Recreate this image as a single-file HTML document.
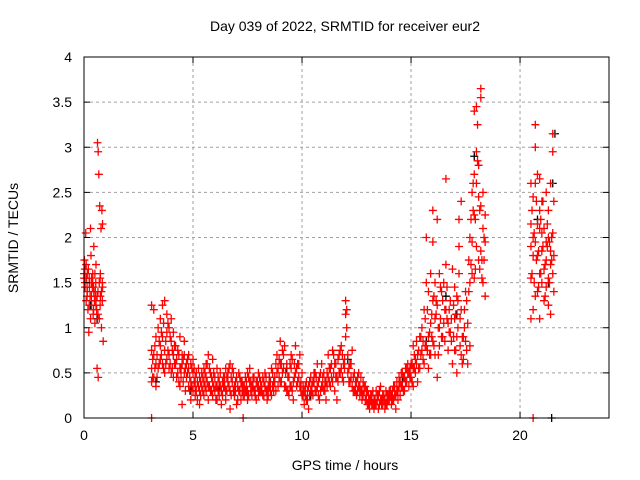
<!DOCTYPE html>
<html><head><meta charset="utf-8"><style>
body{margin:0;background:#fff}
svg{display:block;font-family:"Liberation Sans",sans-serif}
</style></head><body>
<svg id="chart" width="640" height="480" viewBox="0 0 640 480" xmlns="http://www.w3.org/2000/svg">
<rect width="640" height="480" fill="#fff"/>
<text x="345" y="31" font-size="14" text-anchor="middle">Day 039 of 2022, SRMTID for receiver eur2</text>
<text x="345" y="470" font-size="14" text-anchor="middle">GPS time / hours</text>
<text x="18" y="238" font-size="14" text-anchor="middle" transform="rotate(-90 18 238)">SRMTID / TECUs</text>
<g id="grid"></g>
<g id="black-series"></g>
<g id="red-series"></g>
<g id="axes"></g>
</svg>
<script>
const xTicks=[0,5,10,15,20];
const yTicks=[0,0.5,1,1.5,2,2.5,3,3.5,4];
const yTickLabels=["0","0.5","1","1.5","2","2.5","3","3.5","4"];
const hours=[0,0.02,0.05,0.08,0.1,0.12,0.15,0.18,0.2,0.22,0.25,0.28,0.3,0.32,0.35,0.38,0.4,0.42,0.45,0.48,0.5,0.52,0.55,0.58,0.6,0.62,0.65,0.68,0.7,0.72,0.75,0.78,0.8,0.82,0.85,0.88,
3.1,3.2,3.3,3.4,3.5,3.6,3.7,3.8,3.9,4.0,4.1,4.2,4.3,4.4,4.5,4.6,4.7,4.8,4.9,5.0,5.1,5.2,5.3,5.4,5.5,5.6,5.7,5.8,5.9,6.0,6.1,6.2,6.3,6.4,6.5,6.6,6.7,6.8,6.9,7.0,7.1,7.2,7.3,7.4,7.5,7.6,7.7,7.8,7.9,8.0,8.1,8.2,8.3,8.4,8.5,8.6,8.7,8.8,8.9,9.0,9.1,9.2,9.3,9.4,9.5,9.6,9.7,9.8,9.9,10.0,10.1,10.2,10.3,10.4,10.5,10.6,10.7,10.8,10.9,11.0,11.1,11.2,11.3,11.4,11.5,11.6,11.7,11.8,11.9,12.0,12.05,12.1,12.2,12.3,12.4,12.5,12.6,12.7,12.8,12.9,13.0,13.1,13.2,13.3,13.4,13.5,13.6,13.7,13.8,13.9,14.0,14.1,14.2,14.3,14.4,14.5,14.6,14.7,14.8,14.9,15.0,15.1,15.2,15.3,15.4,15.5,15.6,15.7,15.8,15.9,16.0,16.1,16.2,16.3,16.4,16.5,16.6,16.7,16.8,16.9,17.0,17.1,17.2,17.3,17.4,17.5,17.6,17.7,17.8,17.9,18.0,18.1,18.2,18.3,18.4,
20.5,20.6,20.7,20.8,20.9,21.0,21.1,21.2,21.3,21.4,21.5,21.55];
const tec=[[1.6,1.55],[1.75],[1.45,1.55],[2.05],[1.3,1.7],[1.55],[1.4,1.6],[1.2],[1.65],[0.95],[1.5,1.45],[1.35],[1.1,2.1],[1.8],[1.25,1.55],[1.45],[1.6,1.5],[1.15],[1.9,1.4],[1.3],[1.05,1.6],[1.4],[1.7,1.25],[1.2],[0.55,1.35],[3.05],[2.95,0.45],[2.7],[1.5,1.1],[2.35],[1.35,1.6],[2.1],[1.0,1.4],[2.3],[1.45,2.15],[0.85],
[1.25,0.75,0.4,0.55,0],[1.2,0.7,0.45],[0.6,0.35,0.9],[1.0,0.55],[1.1,0.65,0.8],[1.25,0.9,0.6],[1.3,0.75,0.5],[1.15,0.95,0.65],[1.0,0.7,0.55],[0.85,1.1,0.5],[0.7,0.95,0.45],[0.6,0.8],[0.75,0.5],[0.9,0.55,0.35],[0.6,0.7,0.15],[0.5,0.7,0.85],[0.45,0.6],[0.35,0.55,0.7],[0.4,0.6,0.2],[0.3,0.5,0.65],[0.25,0.45,0.35],[0.2,0.4],[0.45,0.3,0.15],[0.5,0.35],[0.4,0.55,0.25],[0.3,0.45,0.6],[0.35,0.7,0.2],[0.5,0.3],[0.65,0.4,0.25],[0.3,0.45],[0.55,0.2,0.35],[0.4,0.25],[0.3,0.15],[0.45,0.35],[0.3,0.55,0.2],[0.5,0.4],[0.6,0.3,0.1],[0.4,0.55],[0.35,0.25],[0.45,0.15],[0.3,0.5],[0.2,0.4],[0,0.35,0.25],[0.3,0.45],[0.5,0.2,0.3],[0.4,0.55],[0.35,0.25],[0.45,0.3],[0.2,0.4],[0.35,0.25,0.5],[0.4,0.3],[0.45,0.25],[0.35,0.5],[0.3,0.2],[0.45,0.35],[0.55,0.25],[0.4,0.3],[0.3,0.6],[0.55,0.35],[0.85,0.6,0.4],[0.75,0.5],[0.8,0.35],[0.6,0.3],[0.45,0.25],[0.55,0.7,0.35],[0.4,0.2],[0.8,0.5],[0.6,0.4],[0.7,0.35],[0.5,0.25],[0.3,0.15],[0.4,0.2],[0.35,0.1],[0.45,0.3],[0.25,0.4],[0.5,0.3],[0.35,0.6],[0.45,0.2],[0.6,0.35],[0.3,0.5],[0.4,0.2],[0.7,0.45],[0.55,0.35],[0.75,0.4],[0.6,0.3],[0.45,0.2],[0.7,0.5],[0.8,0.55],[0.6,0.4],[1.3,1.15,0.9],[1.2,1.0],[0.7,0.5],[0.6,0.4],[0.75,0.35],[0.5,0.3],[0.4,0.25],[0.35,0.5],[0.3,0.45],[0.25,0.4],[0.2,0.35],[0.3,0.15],[0.2,0.1],[0.25,0.15],[0.2,0.1],[0.15,0.3],[0.25,0.1],[0.2,0.35],[0.15,0.25],[0.1,0.2],[0.25,0.15],[0.2,0.3],[0.15,0.25],[0.35,0.2],[0.25,0.1],[0.3,0.2],[0.4,0.25],[0.35,0.5],[0.45,0.3],[0.4,0.55],[0.5,0.35],[0.45,0.6],[0.55,0.35,0.8],[0.5,0.65],[0.7,0.4],[0.9,0.55],[0.75,1.0],[0.6,1.2],[0.8,1.5,2.0],[1.4,0.9,0.55],[1.05,0.7,1.6],[1.3,0.85,1.95,2.3],[1.1,1.5,0.7],[1.25,2.2,0.45],[1.0,1.6,0.8],[0.9,1.4],[1.5,1.05],[1.7,1.2,2.65],[0.75,1.05],[1.3,0.95],[1.65,0.6],[1.1,0.75,1.45],[1.35,0.9,0.5],[2.2,1.9,1.6],[2.4,1.2,0.7],[0.9,0.65],[1.4,0.85],[1.05,0.6],[1.5,0.8,2.0],[2.5,1.95,1.6],[3.4,2.7,2.25,1.55],[3.45,2.95,2.6,1.9],[2.8,2.45,1.75],[3.65,3.55,2.35,1.85],[2.5,2.1,1.5],[2.25,1.95,1.35],
[1.9,2.15,1.1,1.55,2.6],[2.0,2.45,1.8,1.2,0],[3.25,3.0,2.6,1.35,1.95],[2.7,2.15,1.8,1.4],[2.65,2.3,1.6,1.1,2.1],[2.4,1.85,1.5,2.05],[2.1,1.65,1.3],[1.95,1.45,1.75,2.5],[2.0,1.55,1.25,2.3],[2.6,1.7,1.15,1.85],[3.15,2.95,2.05,1.6],[2.4,1.8,1.4]];
const hours2=[0.04,0.14,0.24,0.34,0.44,0.54,0.64,0.74,0.84,
3.15,3.25,3.35,3.45,3.55,3.65,3.75,3.85,3.95,4.05,4.15,4.25,4.35,4.45,4.55,4.65,4.75,4.85,4.95,5.05,5.15,5.25,5.35,5.45,5.55,5.65,5.75,5.85,5.95,6.05,6.15,6.25,6.35,6.45,6.55,6.65,6.75,6.85,6.95,7.05,7.15,7.25,7.35,7.45,7.55,7.65,7.75,7.85,7.95,8.05,8.15,8.25,8.35,8.45,8.55,8.65,8.75,8.85,8.95,9.05,9.15,9.25,9.35,9.45,9.55,9.65,9.75,9.85,9.95,10.05,10.15,10.25,10.35,10.45,10.55,10.65,10.75,10.85,10.95,11.05,11.15,11.25,11.35,11.45,11.55,11.65,11.75,11.85,11.95,12.15,12.25,12.35,12.45,12.55,12.65,12.75,12.85,12.95,13.05,13.15,13.25,13.35,13.45,13.55,13.65,13.75,13.85,13.95,14.05,14.15,14.25,14.35,14.45,14.55,14.65,14.75,14.85,14.95,15.05,15.15,15.25,15.35,15.45,15.55,15.65,15.75,15.85,15.95,16.05,16.15,16.25,16.35,16.45,16.55,16.65,16.75,16.85,16.95,17.05,17.15,17.25,17.35,17.45,17.55,17.65,17.75,17.85,17.95,18.05,18.15,18.25,18.35,
20.55,20.65,20.75,20.85,20.95,21.05,21.15,21.25,21.35,21.45,21.52];
const tec2=[[1.5,1.65],[1.35,1.45],[1.55,1.25],[1.5,1.35],[1.2,1.45],[1.3,1.5],[1.15,1.4],[1.25,1.55],[1.3,1.5],
[0.65,0.45],[0.55,0.8],[0.7,0.45],[0.85,0.6],[0.95,0.7],[1.05,0.55],[0.85,0.6],[0.75,1.05],[0.9,0.6],[0.75,0.55],[0.8,0.6],[0.65,0.45],[0.7,0.4],[0.55,0.45],[0.65,0.4],[0.55,0.3],[0.5,0.65],[0.45,0.3],[0.55,0.35],[0.4,0.55],[0.3,0.5],[0.35,0.55],[0.4,0.25],[0.45,0.3],[0.35,0.5],[0.4,0.6],[0.55,0.35],[0.45,0.3],[0.5,0.35],[0.35,0.2],[0.45,0.3],[0.35,0.5],[0.4,0.25],[0.35,0.45],[0.45,0.3],[0.55,0.35],[0.45,0.25],[0.3,0.5],[0.4,0.3],[0.35,0.2],[0.45,0.3],[0.3,0.4],[0.35,0.25],[0.4,0.3],[0.45,0.25],[0.3,0.4],[0.35,0.45],[0.3,0.25],[0.4,0.35],[0.3,0.45],[0.35,0.3],[0.4,0.25],[0.3,0.45],[0.35,0.25],[0.4,0.3],[0.35,0.5],[0.45,0.4],[0.7,0.5],[0.65,0.45],[0.6,0.4],[0.7,0.55],[0.5,0.35],[0.45,0.3],[0.6,0.35],[0.65,0.3],[0.6,0.45],[0.55,0.35],[0.45,0.6],[0.4,0.3],[0.35,0.25],[0.25,0.35],[0.3,0.2],[0.4,0.25],[0.35,0.3],[0.4,0.5],[0.45,0.3],[0.4,0.25],[0.5,0.3],[0.35,0.45],[0.4,0.3],[0.5,0.35],[0.55,0.4],[0.6,0.45],[0.5,0.7],[0.6,0.45],[0.65,0.4],[0.5,0.75],[0.7,0.45],[0.55,0.65],[0.55,0.4],[0.6,0.45],[0.45,0.3],[0.4,0.3],[0.45,0.3],[0.35,0.25],[0.3,0.2],[0.35,0.3],[0.3,0.2],[0.25,0.15],[0.2,0.25],[0.15,0.3],[0.2,0.15],[0.25,0.2],[0.15,0.3],[0.2,0.15],[0.25,0.2],[0.3,0.15],[0.2,0.25],[0.25,0.3],[0.3,0.2],[0.35,0.25],[0.3,0.4],[0.45,0.35],[0.5,0.35],[0.45,0.3],[0.55,0.4],[0.5,0.6],[0.55,0.45],[0.6,0.4],[0.7,0.55],[0.85,0.6],[0.75,0.55],[0.9,0.7],[0.85,0.65],[1.1,0.8],[1.2,0.75],[0.95,0.7],[1.15,0.9],[1.35,0.8],[1.15,1.3],[1.0,0.7],[1.45,1.1],[1.3,0.9],[0.85,1.2],[1.1,1.45],[0.95,1.2],[0.85,1.1],[1.25,0.9],[0.75,1.15],[1.0,1.3],[0.8,1.1],[0.6,0.9],[1.2,1.0],[1.3,0.75],[1.75,1.4],[2.2,1.7],[2.6,2.3],[2.2,1.65],[3.25,2.85],[2.3,1.65],[1.75,1.55],
[2.0,1.75],[1.6,2.3],[2.05,1.5],[2.4,1.75],[1.85,1.45],[2.2,1.6],[1.9,2.4],[1.7,1.35],[2.15,1.9],[1.5,1.95],[1.75,2.0]];
const blackHours=[0.3,0.6,3.3,4.1,4.9,6.2,8.5,9.3,10.4,12.1,13.2,14.6,15.7,16.6,17.1,17.9,20.8,21.45,21.5,21.6,21.3];
const blackTec=[1.25,1.1,0.4,0.7,0.3,0.35,0.45,0.55,0.25,0.65,0.2,0.4,0.85,1.35,1.15,2.9,2.2,0,2.6,3.15,1.5];

const L=84,R=609,T=57,B=418,XMAX=24.08,YMAX=4;
const xs=h=>L+h/XMAX*(R-L);
const ys=v=>B-v/YMAX*(B-T);
const NS="http://www.w3.org/2000/svg";
function mk(tag,parent,attrs){const e=document.createElementNS(NS,tag);for(const k in attrs)e.setAttribute(k,attrs[k]);parent.appendChild(e);return e;}
const grid=document.getElementById('grid'),axes=document.getElementById('axes');
xTicks.forEach(t=>{
  if(t>0){const g=mk('line',grid,{x1:xs(t),x2:xs(t),y1:T,y2:B,stroke:'#a0a0a0','stroke-dasharray':'3,3'});
  
  }
  mk('line',axes,{x1:xs(t),x2:xs(t),y1:B,y2:B-6,stroke:'#000'});
  mk('line',axes,{x1:xs(t),x2:xs(t),y1:T,y2:T+6,stroke:'#000'});
  const lb=mk('text',axes,{x:xs(t),y:B+22,'font-size':14,'text-anchor':'middle'});
  lb.textContent=String(t);
  
  
});
yTicks.forEach((t,i)=>{
  if(t>0&&t<YMAX){const g=mk('line',grid,{x1:L,x2:R,y1:ys(t),y2:ys(t),stroke:'#a0a0a0','stroke-dasharray':'3,3'});
  
  }
  mk('line',axes,{x1:L,x2:L+6,y1:ys(t),y2:ys(t),stroke:'#000'});
  mk('line',axes,{x1:R,x2:R-6,y1:ys(t),y2:ys(t),stroke:'#000'});
  const lb=mk('text',axes,{x:L-12,y:ys(t)+5,'font-size':14,'text-anchor':'end'});
  lb.textContent=yTickLabels[i];
  
  
});
const frame=mk('rect',axes,{x:L,y:T,width:R-L,height:B-T,fill:'none',stroke:'#000'});


function plus(parent,h,v,col){
  const x=xs(h),y=ys(v);
  return mk('path',parent,{d:`M${x-4},${y}H${x+4}M${x},${y-4}V${y+4}`,stroke:col,'stroke-width':1.3});
}
const bg=document.getElementById('black-series');
blackHours.forEach((h,i)=>{
  const p=plus(bg,h,blackTec[i],'#000');
  
  
});
const rg=document.getElementById('red-series');
hours.forEach((h,i)=>{
  (tec[i]||[]).forEach(v=>{
    const p=plus(rg,h,v,'#f00');
    
    
  });
});
hours2.forEach((h,i)=>{
  (tec2[i]||[]).forEach(v=>{
    const p=plus(rg,h,v,'#f00');
    
    
  });
});
</script>
</body></html>
